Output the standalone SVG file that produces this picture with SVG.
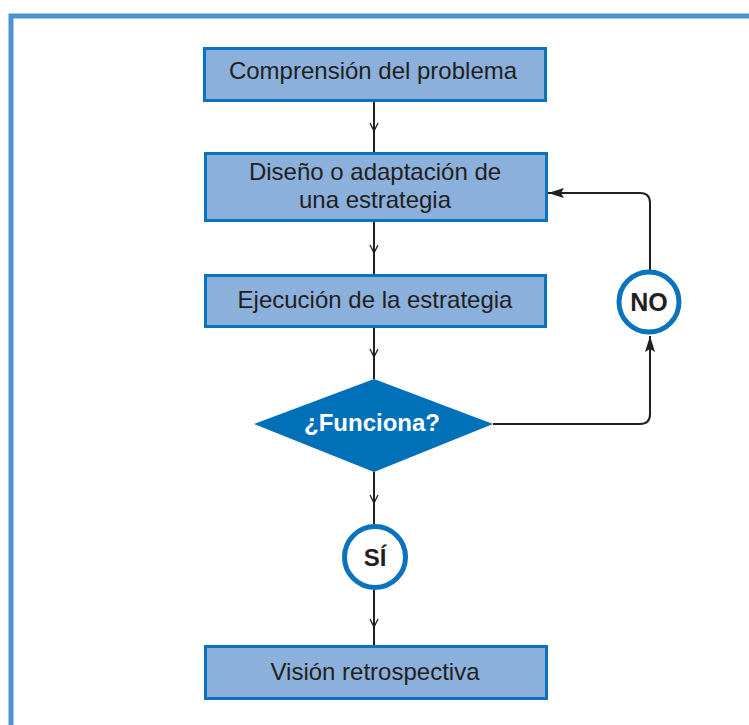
<svg xmlns="http://www.w3.org/2000/svg" width="749" height="725" viewBox="0 0 749 725">
<defs>
<style>
.box{fill:#8bb0dc;stroke:#0a73bd;stroke-width:3}
.t{font-family:"Liberation Sans",Arial,sans-serif;font-size:24px;fill:#231f20;text-anchor:middle}
.b{font-family:"Liberation Sans",Arial,sans-serif;font-size:24px;font-weight:bold;fill:#231f20;text-anchor:middle}
.ln{fill:none;stroke:#231f20;stroke-width:2}
.chev{fill:none;stroke:#231f20;stroke-width:1.3}
.circ{fill:#fff;stroke:#0a73bd;stroke-width:5}
</style>
<marker id="ah" viewBox="0 0 16 10" refX="16" refY="5" markerWidth="16" markerHeight="10" markerUnits="userSpaceOnUse" orient="auto">
<path d="M0,0 L16,5 L0,10 L3,5 Z" fill="#231f20"/>
</marker>
</defs>
<rect x="0" y="0" width="749" height="725" fill="#fff"/>
<rect id="frame" x="11" y="16" width="760" height="740" fill="none" stroke="#4b93d1" stroke-width="5"/>
<g id="connectors">
<path class="ln" d="M374,101 V152"/>
<path class="chev" d="M370,123 L374,131 L378,123"/>
<path class="ln" d="M374,221 V275"/>
<path class="chev" d="M370,245 L374,253 L378,245"/>
<path class="ln" d="M374,327 V379"/>
<path class="chev" d="M370,349 L374,357 L378,349"/>
<path class="ln" d="M374,472 V524"/>
<path class="chev" d="M370,495 L374,503 L378,495"/>
<path class="ln" d="M374,590 V646"/>
<path class="chev" d="M370,619 L374,627 L378,619"/>
<path class="ln" d="M493,424 H640 Q650,424 650,414 V336" marker-end="url(#ah)"/>
<path class="ln" d="M650,270 V203 Q650,193 640,193 H548" marker-end="url(#ah)"/>
</g>
<g id="n1">
<rect class="box" x="204.5" y="48.5" width="341" height="52"/>
<text class="t" x="373" y="79">Comprensión del problema</text>
</g>
<g id="n2">
<rect class="box" x="205.5" y="153.5" width="341" height="67"/>
<text class="t" x="375" y="180">Diseño o adaptación de</text>
<text class="t" x="375" y="208">una estrategia</text>
</g>
<g id="n3">
<rect class="box" x="205.5" y="275.5" width="340" height="51"/>
<text class="t" x="375" y="308">Ejecución de la estrategia</text>
</g>
<g id="n4">
<polygon points="374,379 493,424 374,472 254,424" fill="#0070b8"/>
<text class="b" x="372" y="431" style="fill:#fff">¿Funciona?</text>
</g>
<g id="n5">
<circle class="circ" cx="375" cy="557" r="30.5"/>
<text class="b" x="375" y="566">SÍ</text>
</g>
<g id="n6">
<circle class="circ" cx="649" cy="302" r="30"/>
<text class="b" x="649" y="311" style="font-size:25px">NO</text>
</g>
<g id="n7">
<rect class="box" x="205.5" y="646.5" width="341" height="52"/>
<text class="t" x="375" y="680">Visión retrospectiva</text>
</g>
</svg>
